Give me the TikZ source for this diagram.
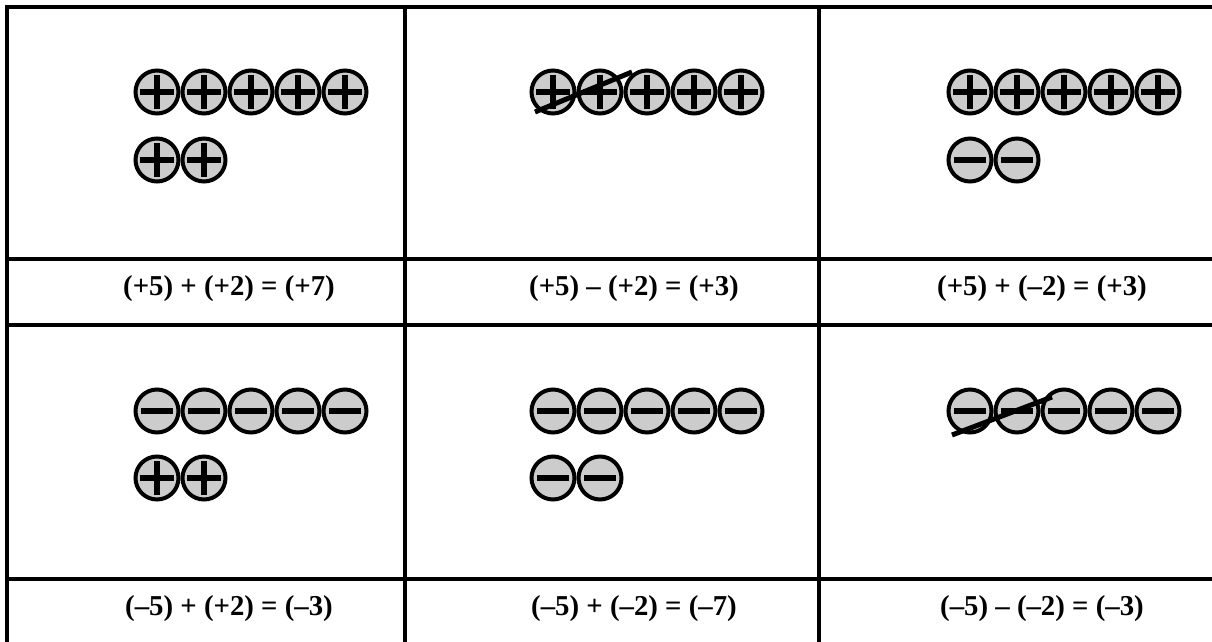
\documentclass[tikz,border=0pt]{standalone}
\usepackage{fontspec}
\setmainfont{Liberation Serif}
\usepackage{tikz}
\usetikzlibrary{positioning}

\begin{document}
\begin{tikzpicture}[
    x=0.5pt, y=-0.5pt,
    node distance=0pt,
    grid/.style={line width=2pt},
    coin/.style={circle, draw, line width=2pt, fill=black!20,
        minimum size=21.5pt, inner sep=0pt},
    poscoin/.style={coin, path picture={
        \draw[line width=3pt] (path picture bounding box.center) ++(-8.5pt,0pt) -- ++(17pt,0pt)
            (path picture bounding box.center) ++(0pt,-8.5pt) -- ++(0pt,17pt);}},
    negcoin/.style={coin, path picture={
        \draw[line width=3pt] (path picture bounding box.center) ++(-8pt,0pt) -- ++(16pt,0pt);}},
    strike/.style={line width=2.5pt},
    eqn/.style={font=\fontsize{14.4}{17}\selectfont\bfseries}
]
    \useasboundingbox (0,0) rectangle (1212,642);

    % table
    \draw[grid] (7,642) -- (7,7) -- (1212,7);
    \draw[grid] (405,7) -- (405,642);
    \draw[grid] (819,7) -- (819,642);
    \draw[grid] (7,259) -- (1212,259);
    \draw[grid] (7,324.5) -- (1212,324.5);
    \draw[grid] (7,579) -- (1212,579);

    % (+5) + (+2)
    \node[poscoin] (a1) at (157,92) {}; \node[poscoin, right=of a1] (a2) {}; \node[poscoin, right=of a2] (a3) {};
    \node[poscoin, right=of a3] (a4) {}; \node[poscoin, right=of a4] (a5) {};
    \node[poscoin] (a6) at (157,160) {}; \node[poscoin, right=of a6] (a7) {};

    % (+5) - (+2)
    \node[poscoin] (b1) at (553,92) {}; \node[poscoin, right=of b1] (b2) {}; \node[poscoin, right=of b2] (b3) {};
    \node[poscoin, right=of b3] (b4) {}; \node[poscoin, right=of b4] (b5) {};
    \draw[strike] ([shift={(-9pt,-10pt)}]b1.center) -- ([shift={(16pt,10pt)}]b2.center);

    % (+5) + (-2)
    \node[poscoin] (c1) at (970,92) {}; \node[poscoin, right=of c1] (c2) {}; \node[poscoin, right=of c2] (c3) {};
    \node[poscoin, right=of c3] (c4) {}; \node[poscoin, right=of c4] (c5) {};
    \node[negcoin] (c6) at (970,160) {}; \node[negcoin, right=of c6] (c7) {};

    % (-5) + (+2)
    \node[negcoin] (d1) at (157,411) {}; \node[negcoin, right=of d1] (d2) {}; \node[negcoin, right=of d2] (d3) {};
    \node[negcoin, right=of d3] (d4) {}; \node[negcoin, right=of d4] (d5) {};
    \node[poscoin] (d6) at (157,478) {}; \node[poscoin, right=of d6] (d7) {};

    % (-5) + (-2)
    \node[negcoin] (e1) at (553,411) {}; \node[negcoin, right=of e1] (e2) {}; \node[negcoin, right=of e2] (e3) {};
    \node[negcoin, right=of e3] (e4) {}; \node[negcoin, right=of e4] (e5) {};
    \node[negcoin] (e6) at (553,478) {}; \node[negcoin, right=of e6] (e7) {};

    % (-5) - (-2)
    \node[negcoin] (f1) at (970,411) {}; \node[negcoin, right=of f1] (f2) {}; \node[negcoin, right=of f2] (f3) {};
    \node[negcoin, right=of f3] (f4) {}; \node[negcoin, right=of f4] (f5) {};
    \draw[strike] ([shift={(-9pt,-12pt)}]f1.center) -- ([shift={(17.5pt,7pt)}]f2.center);

    % equations
    \node[eqn] (eqa) at (229,289) {(+5) + (+2) = (+7)};
    \node[eqn] (eqb) at (634,289) {(+5) – (+2) = (+3)};
    \node[eqn] (eqc) at (1042,289) {(+5) + (–2) = (+3)};
    \node[eqn] (eqd) at (229,609) {(–5) + (+2) = (–3)};
    \node[eqn] (eqe) at (634,609) {(–5) + (–2) = (–7)};
    \node[eqn] (eqf) at (1042,609) {(–5) – (–2) = (–3)};
\end{tikzpicture}
\end{document}
